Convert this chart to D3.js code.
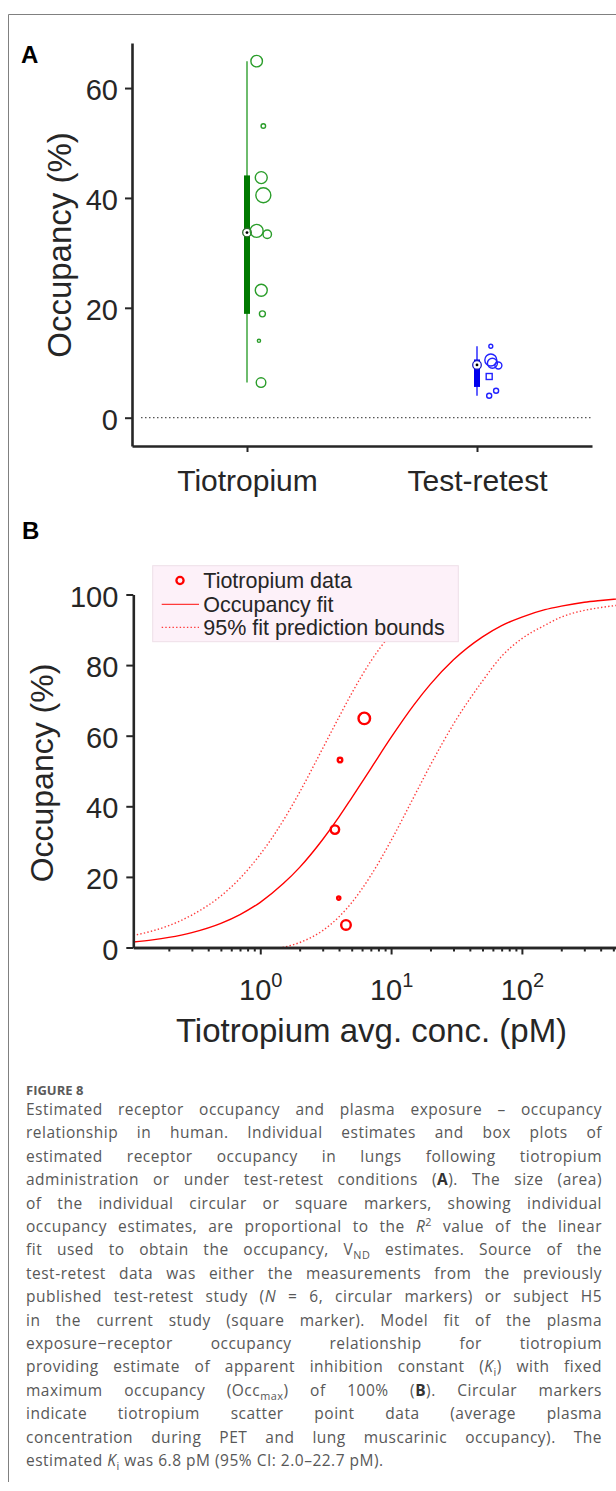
<!DOCTYPE html>
<html>
<head>
<meta charset="utf-8">
<script src="https://cdn.jsdelivr.net/npm/d3@7"></script>
<style>
  body { margin: 0; background: #fff; }
  #page { position: relative; width: 616px; height: 1491px; overflow: hidden; }
  svg { position: absolute; left: 0; top: 0; }
  #caption {
    position: absolute; left: 26px; top: 1098px; width: 576px;
    font-family: "Open Sans", sans-serif; font-size: 15.5px; letter-spacing: 0.5px;
    line-height: 23.4px; color: #585858;
  }
  #caption div { text-align: justify; text-align-last: justify; }
  #caption div.last { text-align: left; text-align-last: left; }
  #caption b { color: #333; }
  #caption sup, #caption sub { font-size: 0.7em; line-height: 0; }
</style>
</head>
<body>
<div id="page">
  <div id="chart"></div>
  <div id="caption"></div>
</div>
<script>
// ---- panel A data ----
let categories = ['Tiotropium', 'Test-retest'];

let tioOcc = [64.9, 53.1, 43.7, 40.5, 34.0, 33.4, 23.2, 18.9, 14.0, 6.4];
let tioJitter = [0.042, 0.071, 0.062, 0.071, 0.042, 0.088, 0.062, 0.067, 0.052, 0.061];
let tioR2 = [0.52, 0.08, 0.56, 0.88, 0.66, 0.28, 0.56, 0.14, 0.04, 0.36];

let trOcc = [13.0, 10.5, 9.9, 9.5, 7.5, 4.0, 4.9];
let trJitter = [0.060, 0.060, 0.067, 0.093, 0.053, 0.053, 0.083];
let trR2 = [0.06, 0.56, 0.39, 0.19, 0.14, 0.10, 0.10];
let trMarker = ['circle', 'circle', 'circle', 'circle', 'square', 'circle', 'circle'];

// box plot stats per category
let boxMin = [6.4, 4.0];
let boxQ1 = [18.9, 5.6];
let boxMed = [33.7, 9.6];
let boxQ3 = [44.1, 10.6];
let boxMax = [64.9, 13.0];

// ---- panel B data ----
let scatterConc = [6.24, 4.07, 3.72, 3.98, 4.52];
let scatterOcc = [64.9, 53.1, 33.4, 14.0, 6.4];
let scatterR2 = [0.52, 0.08, 0.28, 0.04, 0.36];

let fitConc = [0.107, 0.15, 0.2, 0.3, 0.5, 0.7, 1, 1.5, 2, 3, 4, 5, 7, 10, 15, 20, 30, 50, 70, 100, 150, 200, 300, 400, 524];
let fitOcc = [1.55, 2.16, 2.86, 4.23, 6.85, 9.33, 12.8, 18.1, 22.7, 30.6, 37.0, 42.4, 50.7, 59.5, 68.8, 74.6, 81.5, 88.0, 91.2, 93.6, 95.7, 96.7, 97.8, 98.3, 98.7];

let upperConc = [0.107, 0.15, 0.2, 0.3, 0.5, 0.7, 1, 1.5, 2, 3, 4, 5, 7, 10, 15, 20, 30];
let upperOcc = [3.4, 4.7, 6.2, 9.2, 14.6, 19.6, 26.4, 36.0, 44.0, 56.4, 65.3, 72.0, 81.1, 88.8, 94.9, 97.6, 99.8];

let lowerConc = [1.48, 2, 3, 4, 5, 7, 10, 15, 20, 30, 50, 70, 100, 150, 200, 300, 400, 524];
let lowerOcc = [0, 1.4, 4.8, 8.7, 12.7, 20.4, 30.3, 42.8, 51.7, 63.3, 75.5, 82.5, 87.5, 91.3, 93.6, 95.5, 96.3, 96.9];

let yTicksA = [0, 20, 40, 60];
let yTicksB = [0, 20, 40, 60, 80, 100];
let xMajorB = [1, 10, 100];
let xMinorB = [0.2, 0.3, 0.4, 0.5, 0.6, 0.7, 0.8, 0.9, 2, 3, 4, 5, 6, 7, 8, 9, 20, 30, 40, 50, 60, 70, 80, 90, 200, 300, 400, 500];

let legendLabels = ['Tiotropium data', 'Occupancy fit', '95% fit prediction bounds'];

let captionLines = [
  'Estimated receptor occupancy and plasma exposure – occupancy',
  'relationship in human. Individual estimates and box plots of',
  'estimated receptor occupancy in lungs following tiotropium',
  'administration or under test-retest conditions (<b>A</b>). The size (area)',
  'of the individual circular or square markers, showing individual',
  'occupancy estimates, are proportional to the <i>R</i><sup>2</sup> value of the linear',
  'fit used to obtain the occupancy, V<sub>ND</sub> estimates. Source of the',
  'test-retest data was either the measurements from the previously',
  'published test-retest study (<i>N</i> = 6, circular markers) or subject H5',
  'in the current study (square marker). Model fit of the plasma',
  'exposure−receptor occupancy relationship for tiotropium',
  'providing estimate of apparent inhibition constant (<i>K</i><sub>i</sub>) with fixed',
  'maximum occupancy (Occ<sub>max</sub>) of 100% (<b>B</b>). Circular markers',
  'indicate tiotropium scatter point data (average plasma',
  'concentration during PET and lung muscarinic occupancy). The',
  'estimated <i>K</i><sub>i</sub> was 6.8 pM (95% CI: 2.0–22.7 pM).'
];

// ---- styles ----
let axisColor = '#262626';
let font = '"Liberation Sans", Arial, sans-serif';
let catColor = ['#2a9d2a', '#2222ff'];
let whiskerColor = ['#4aab4a', '#3a3aff'];
let boxColor = ['#007a00', '#0000ee'];
let red = '#ff0000';

let svg = d3.select('#chart').append('svg')
  .attr('width', 616)
  .attr('height', 1491)
  .style('font-family', font);

// page frame
svg.append('path')
  .attr('d', 'M8.5,1482V14.5H616')
  .attr('fill', 'none')
  .attr('stroke', '#808080')
  .attr('stroke-width', 1);

function styleAxis(g) {
  g.select('.domain').attr('stroke', axisColor).attr('stroke-width', 2.6);
  g.selectAll('.tick line').attr('stroke', axisColor).attr('stroke-width', 2);
  g.selectAll('.tick text').attr('fill', axisColor).style('font-family', font);
}

// ================= Panel A =================
let xA = d3.scaleLinear().domain([0.5, 2.5]).range([132, 592]);
let yA = d3.scaleLinear().domain([-5.15, 68.2]).range([446, 43]);
let sizeA = d3.scaleSqrt().domain([0, 1]).range([0, 8]);

svg.append('text')
  .attr('x', 21).attr('y', 63)
  .attr('font-size', 24).attr('font-weight', 'bold')
  .text('A');

// zero reference line
svg.append('line')
  .attr('x1', 141).attr('x2', xA.range()[1])
  .attr('y1', yA(0)).attr('y2', yA(0))
  .attr('stroke', '#555').attr('stroke-width', 1.2)
  .attr('stroke-dasharray', '1.5,2.5');

let yAxisA = svg.append('g')
  .attr('transform', `translate(${xA.range()[0]},0)`)
  .call(d3.axisLeft(yA).tickValues(yTicksA).tickSize(7).tickSizeOuter(0).tickPadding(7));
yAxisA.selectAll('.tick text').attr('font-size', 29).attr('dy', '0.4em');
styleAxis(yAxisA);

let xAxisA = svg.append('g')
  .attr('transform', `translate(0,${yA.range()[0]})`)
  .call(d3.axisBottom(xA).tickValues([1, 2]).tickFormat(i => categories[i - 1]).tickSize(6).tickSizeOuter(0));
xAxisA.selectAll('.tick text').attr('font-size', 30).attr('y', 44.7).attr('dy', 0);
styleAxis(xAxisA);

svg.append('text')
  .attr('transform', 'rotate(-90)')
  .attr('x', -245).attr('y', 71)
  .attr('text-anchor', 'middle')
  .attr('font-size', 33)
  .attr('fill', axisColor)
  .text('Occupancy (%)');

// box plots
let boxes = svg.append('g');
categories.forEach(function(c, i) {
  let cx = xA(i + 1);
  boxes.append('line')
    .attr('x1', cx).attr('x2', cx)
    .attr('y1', yA(boxMin[i])).attr('y2', yA(boxMax[i]))
    .attr('stroke', whiskerColor[i]).attr('stroke-width', 1.6);
  boxes.append('rect')
    .attr('x', cx - 3).attr('width', 6)
    .attr('y', yA(boxQ3[i])).attr('height', yA(boxQ1[i]) - yA(boxQ3[i]))
    .attr('fill', boxColor[i]);
  boxes.append('circle')
    .attr('cx', cx).attr('cy', yA(boxMed[i])).attr('r', 4.3)
    .attr('fill', '#fff').attr('stroke', i === 0 ? '#2d6b2d' : '#1f1fc0').attr('stroke-width', 1.3);
  boxes.append('circle')
    .attr('cx', cx).attr('cy', yA(boxMed[i])).attr('r', 1.4)
    .attr('fill', '#000');
});

// individual estimates
svg.append('g').selectAll('circle')
  .data(tioOcc)
  .enter()
  .append('circle')
  .attr('cx', (d, i) => xA(1 + tioJitter[i]))
  .attr('cy', d => yA(d))
  .attr('r', (d, i) => sizeA(tioR2[i]))
  .attr('fill', 'none')
  .attr('stroke', catColor[0])
  .attr('stroke-width', 1.4);

let trData = trOcc.map((d, i) => ({occ: d, jit: trJitter[i], r2: trR2[i], marker: trMarker[i]}));
let trGroup = svg.append('g');
trGroup.selectAll('circle')
  .data(trData.filter(d => d.marker === 'circle'))
  .enter()
  .append('circle')
  .attr('cx', d => xA(2 + d.jit))
  .attr('cy', d => yA(d.occ))
  .attr('r', d => sizeA(d.r2))
  .attr('fill', 'none')
  .attr('stroke', catColor[1])
  .attr('stroke-width', 1.4);
trGroup.selectAll('rect')
  .data(trData.filter(d => d.marker === 'square'))
  .enter()
  .append('rect')
  .attr('x', d => xA(2 + d.jit) - sizeA(d.r2))
  .attr('y', d => yA(d.occ) - sizeA(d.r2))
  .attr('width', d => 2 * sizeA(d.r2))
  .attr('height', d => 2 * sizeA(d.r2))
  .attr('fill', 'none')
  .attr('stroke', catColor[1])
  .attr('stroke-width', 1.4);

// ================= Panel B =================
let xB = d3.scaleLog().domain([0.107, 524]).range([133.3, 616]);
let yB = d3.scaleLinear().domain([0, 100]).range([947.5, 594.5]);
let sizeB = d3.scaleSqrt().domain([0, 1]).range([0, 8]);

svg.append('text')
  .attr('x', 22).attr('y', 539)
  .attr('font-size', 24).attr('font-weight', 'bold')
  .text('B');

svg.append('defs').append('clipPath').attr('id', 'plotB')
  .append('rect')
  .attr('x', xB.range()[0]).attr('y', yB.range()[1])
  .attr('width', xB.range()[1] - xB.range()[0])
  .attr('height', yB.range()[0] - yB.range()[1]);

let line = d3.line()
  .x(d => xB(d[0]))
  .y(d => yB(d[1]))
  .curve(d3.curveMonotoneX);

let curves = svg.append('g').attr('clip-path', 'url(#plotB)');
curves.append('path')
  .attr('d', line(d3.zip(upperConc, upperOcc)))
  .attr('fill', 'none').attr('stroke', '#ff3b3b').attr('stroke-width', 1.4)
  .attr('stroke-dasharray', '1.4,2.2');
curves.append('path')
  .attr('d', line(d3.zip(lowerConc, lowerOcc)))
  .attr('fill', 'none').attr('stroke', '#ff3b3b').attr('stroke-width', 1.4)
  .attr('stroke-dasharray', '1.4,2.2');
curves.append('path')
  .attr('d', line(d3.zip(fitConc, fitOcc)))
  .attr('fill', 'none').attr('stroke', red).attr('stroke-width', 1.4);

svg.append('g').selectAll('circle')
  .data(scatterOcc)
  .enter()
  .append('circle')
  .attr('cx', (d, i) => xB(scatterConc[i]))
  .attr('cy', d => yB(d))
  .attr('r', (d, i) => sizeB(scatterR2[i]))
  .attr('fill', 'none')
  .attr('stroke', red)
  .attr('stroke-width', 2.4);

let yAxisB = svg.append('g')
  .attr('transform', `translate(${xB.range()[0]},0)`)
  .call(d3.axisLeft(yB).tickValues(yTicksB).tickSize(7).tickSizeOuter(0).tickPadding(8));
yAxisB.selectAll('.tick text').attr('font-size', 29).attr('dy', '0.4em');
styleAxis(yAxisB);

let xMinorAxisB = svg.append('g')
  .attr('transform', `translate(0,${yB.range()[0]})`)
  .call(d3.axisBottom(xB).tickValues(xMinorB).tickSize(4).tickSizeOuter(0).tickFormat(''));
styleAxis(xMinorAxisB);

let xAxisB = svg.append('g')
  .attr('transform', `translate(0,${yB.range()[0]})`)
  .call(d3.axisBottom(xB).tickValues(xMajorB).tickSize(7).tickSizeOuter(0).tickFormat(''));
styleAxis(xAxisB);

let majorLabels = xAxisB.selectAll('.tick').append('text')
  .attr('y', 52)
  .attr('fill', axisColor)
  .attr('text-anchor', 'middle')
  .attr('font-size', 29)
  .style('font-family', font);
majorLabels.append('tspan').text('10');
majorLabels.append('tspan')
  .attr('dy', -13)
  .attr('font-size', 20)
  .text(d => Math.round(Math.log10(d)));

svg.append('text')
  .attr('x', 371.5).attr('y', 1041.7)
  .attr('text-anchor', 'middle')
  .attr('font-size', 33)
  .attr('fill', axisColor)
  .text('Tiotropium avg. conc. (pM)');

svg.append('text')
  .attr('transform', 'rotate(-90)')
  .attr('x', -773).attr('y', 53)
  .attr('text-anchor', 'middle')
  .attr('font-size', 32)
  .attr('fill', axisColor)
  .text('Occupancy (%)');

// legend
let legend = svg.append('g');
legend.append('rect')
  .attr('x', 152.7).attr('y', 565.7)
  .attr('width', 305.6).attr('height', 76)
  .attr('fill', '#fdf1f9')
  .attr('stroke', '#eedfe8')
  .attr('stroke-width', 1);
legend.append('circle')
  .attr('cx', 180).attr('cy', 580.5).attr('r', 3.6)
  .attr('fill', 'none').attr('stroke', red).attr('stroke-width', 2.3);
legend.append('line')
  .attr('x1', 161.7).attr('x2', 199).attr('y1', 604.3).attr('y2', 604.3)
  .attr('stroke', '#ff3b3b').attr('stroke-width', 1.3);
legend.append('line')
  .attr('x1', 161.7).attr('x2', 199).attr('y1', 627.3).attr('y2', 627.3)
  .attr('stroke', '#ff3b3b').attr('stroke-width', 1.3).attr('stroke-dasharray', '1.4,2.2');
legend.selectAll('.legText')
  .data(legendLabels)
  .enter()
  .append('text')
  .classed('legText', true)
  .attr('x', 203.3)
  .attr('y', (d, i) => 588.3 + i * 23.4)
  .attr('font-size', 21.5)
  .attr('fill', axisColor)
  .text(d => d);

// caption
svg.append('text')
  .attr('x', 26).attr('y', 1095)
  .attr('font-family', '"Open Sans", sans-serif')
  .attr('font-size', 13).attr('font-weight', 700)
  .attr('fill', '#5a5a5a')
  .text('FIGURE 8');

d3.select('#caption').selectAll('div')
  .data(captionLines)
  .enter()
  .append('div')
  .classed('last', (d, i) => i === captionLines.length - 1)
  .html(d => d);
</script>
</body>
</html>
